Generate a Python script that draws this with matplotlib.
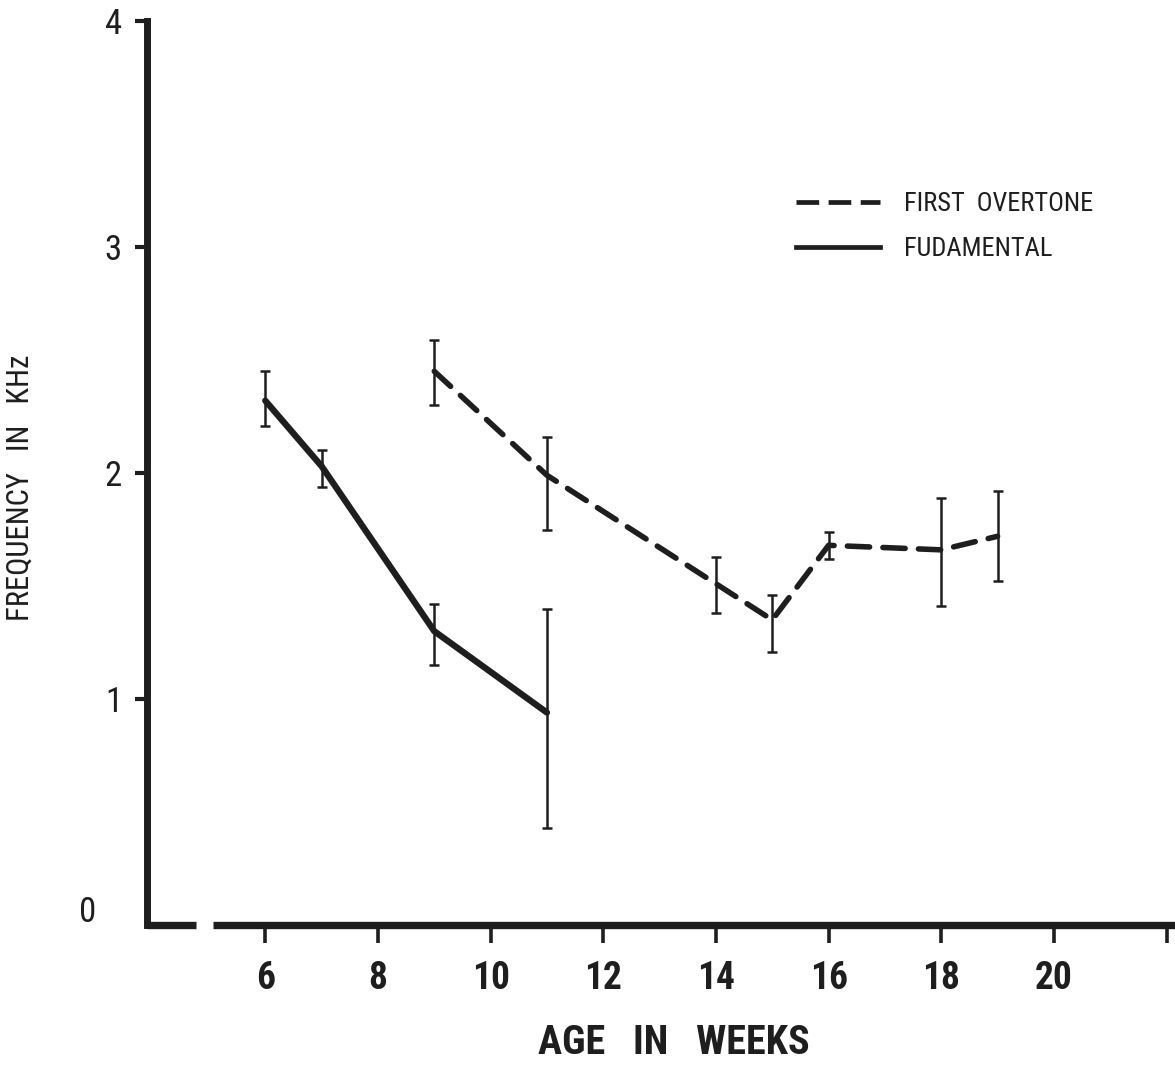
import matplotlib
matplotlib.use("Agg")
import matplotlib.pyplot as plt
from matplotlib.lines import Line2D
from matplotlib import font_manager
import numpy as np

# Mean frequency (kHz) with lower / upper error bar ends, by age in weeks
fund_weeks = [6, 7, 9, 11]
fund_mean = [2.32, 2.03, 1.30, 0.94]
fund_low = [2.21, 1.94, 1.15, 0.43]
fund_high = [2.45, 2.10, 1.42, 1.40]

over_weeks = [9, 11, 14, 15, 16, 18, 19]
over_mean = [2.45, 1.99, 1.51, 1.35, 1.68, 1.66, 1.72]
over_low = [2.30, 1.75, 1.38, 1.21, 1.62, 1.41, 1.52]
over_high = [2.59, 2.16, 1.63, 1.46, 1.74, 1.89, 1.92]

x_ticks = [6, 8, 10, 12, 14, 16, 18, 20, 22]
x_tick_labels = ["6", "8", "10", "12", "14", "16", "18", "20", ""]
y_ticks = [1, 2, 3, 4]
y_tick_labels = ["1", "2", "3", "4"]

# prefer a narrow face for the typewritten look
installed = {f.name for f in font_manager.fontManager.ttflist}
narrow = [n for n in ("Roboto Condensed", "DejaVu Sans Condensed",
                      "Liberation Sans Narrow", "Open Sans Condensed")
          if n in installed]
FONT = narrow + ["DejaVu Sans"]
INK = "#1e1e1e"

plt.rcParams["font.family"] = FONT
plt.rcParams["font.stretch"] = "condensed"

W, H = 1175, 1088
fig = plt.figure(figsize=(W / 100, H / 100), dpi=100)
ax = fig.add_axes([147 / W, (H - 925) / H, (W - 147) / W, (925 - 21) / H])

xmin, xmax = 3.9, 22.15
ax.set_xlim(xmin, xmax)
ax.set_ylim(0, 4)

# Fundamental: solid line with error bars
ax.errorbar(fund_weeks, fund_mean,
            yerr=[np.subtract(fund_mean, fund_low), np.subtract(fund_high, fund_mean)],
            color=INK, lw=4.6, elinewidth=1.8, capsize=3.8, capthick=1.8,
            solid_capstyle="round", solid_joinstyle="round", zorder=3)

# First overtone: dashed line with error bars
eb = ax.errorbar(over_weeks, over_mean,
                 yerr=[np.subtract(over_mean, over_low), np.subtract(over_high, over_mean)],
                 color=INK, lw=4.0, elinewidth=1.8, capsize=3.8, capthick=1.8, zorder=3)
eb[0].set_linestyle((0, (4.0, 2.4)))
eb[0].set_dash_capstyle("round")

# Axis frame: heavy left spine, broken bottom axis line
for side in ("top", "right", "bottom"):
    ax.spines[side].set_visible(False)
ax.spines["left"].set_linewidth(5)
ax.spines["left"].set_color(INK)
ax.spines["left"].set_capstyle("projecting")

ax.plot([xmin, 4.77], [0, 0], color=INK, lw=5.3, clip_on=False,
        solid_capstyle="butt", zorder=4)
ax.plot([5.07, xmax], [0, 0], color=INK, lw=5.3, clip_on=False,
        solid_capstyle="butt", zorder=4)

ax.set_xticks(x_ticks)
ax.set_xticklabels(x_tick_labels)
ax.set_yticks(y_ticks)
ax.set_yticklabels(y_tick_labels)
ax.tick_params(axis="x", direction="out", length=13, width=2.6, color=INK,
               pad=12, labelsize=27, labelcolor=INK)
ax.tick_params(axis="y", direction="out", length=9, width=3.0, color=INK,
               pad=9, labelsize=25, labelcolor=INK)
for lab in ax.get_xticklabels():
    lab.set_fontweight("bold")

ax.annotate("0", xy=(0, 0), xycoords="axes fraction", xytext=(-43, 9),
            textcoords="offset points", ha="center", va="center",
            fontsize=25, color=INK)

ax.set_xlabel("AGE   IN   WEEKS", fontsize=29, fontweight="bold", color=INK)
ax.xaxis.set_label_coords((674 - 147) / (W - 147), (925 - 1024) / (925 - 21))
ax.set_ylabel("FREQUENCY   IN   KHz", fontsize=22, color=INK)
ax.yaxis.set_label_coords((35 - 147) / (W - 147), (925 - 488) / (925 - 21))

handles = [
    Line2D([], [], color=INK, lw=3.4, linestyle=(0, (4.8, 2.0))),
    Line2D([], [], color=INK, lw=3.4),
]
leg = ax.legend(handles, ["FIRST  OVERTONE", "FUDAMENTAL"], frameon=False,
                loc="upper left", bbox_to_anchor=(796 / W, 1 - 192 / H),
                bbox_transform=fig.transFigure, fontsize=19,
                handlelength=3.2, handletextpad=0.9, labelspacing=0.8,
                borderpad=0, borderaxespad=0)
for t in leg.get_texts():
    t.set_color(INK)

fig.savefig("out.png", dpi=100, facecolor="white")
